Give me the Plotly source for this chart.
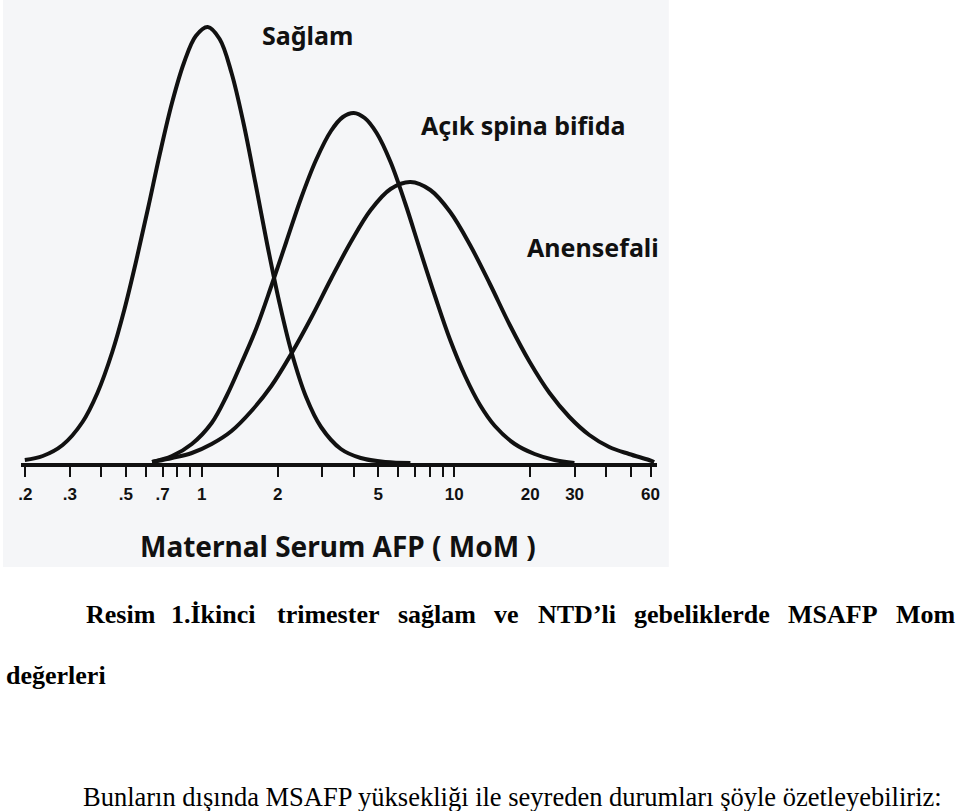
import plotly.graph_objects as go

# ---- data (x in MoM, y = relative frequency, arbitrary units) ----
saglam_x = [0.1991, 0.2345, 0.2811, 0.3370, 0.3860, 0.4421, 0.4931, 0.5497, 0.6129, 0.6835,
            0.7620, 0.8496, 0.9471, 1.0559, 1.1772, 1.3124, 1.4633, 1.6315, 1.8190, 2.0280,
            2.2611, 2.5907, 2.9680, 3.5572, 4.2650, 5.3490, 6.7100]
saglam_y = [3, 7, 18, 41, 70, 111, 153, 202, 255, 310,
            360, 400, 427, 436, 424, 390, 340, 280, 218, 161,
            112, 66, 36, 14, 5, 1, 0]

spina_x = [0.6356, 0.7620, 0.9135, 1.0947, 1.2543, 1.4370, 1.6465, 1.8864, 2.1612, 2.4760,
           2.8370, 3.2500, 3.6240, 4.0030, 4.4220, 4.9300, 5.5980, 6.4130, 7.3470, 8.4200,
           9.6440, 11.050, 12.660, 14.500, 17.390, 20.840, 24.980, 29.950]
spina_y = [1, 7, 19, 40, 67, 100, 135, 177, 221, 265,
           303, 332, 346, 350, 345, 330, 301, 259, 212, 166,
           123, 87, 58, 37, 19, 9, 3, 0]

anen_x = [0.6356, 0.7620, 0.9135, 1.0947, 1.3124, 1.5733, 1.8864, 2.2611, 2.7110, 3.2500,
          3.8960, 4.6700, 5.5980, 6.7100, 8.0440, 9.6440, 11.560, 13.860, 16.610, 19.920,
          23.870, 28.620, 34.310, 41.140, 49.310, 59.110, 62.0]
anen_y = [1, 5, 10, 19, 32, 52, 77, 109, 145, 184,
          221, 253, 274, 281, 273, 251, 218, 179, 138, 101,
          70, 46, 28, 16, 9, 3, 1]

tick_vals = [0.2, 0.3, 0.4, 0.5, 0.6, 0.7, 0.8, 0.9, 1, 2, 3, 4, 5, 6, 7, 8, 9, 10, 20, 30, 40, 50, 60]
tick_text = [".2", ".3", "", ".5", "", ".7", "", "", "1", "2", "", "", "5", "", "", "", "", "10",
             "20", "30", "", "", "60"]

curve_labels = ["Sağlam", "Açık spina bifida", "Anensefali"]
axis_title = "Maternal Serum AFP ( MoM )"
caption_words = ["Resim", "1.İkinci", "trimester", "sağlam", "ve", "NTD’li", "gebeliklerde", "MSAFP", "Mom"]
caption_line2 = "değerleri"
body_text = "Bunların dışında MSAFP yüksekliği ile seyreden durumları şöyle özetleyebiliriz:"

W, H = 960, 811


def X(px):
    return px / W


def Y(py):
    return 1 - py / H


fig = go.Figure()
for xs, ys in [(saglam_x, saglam_y), (spina_x, spina_y), (anen_x, anen_y)]:
    fig.add_trace(go.Scatter(x=xs, y=ys, mode="lines",
                             line=dict(color="#111111", width=4, shape="spline", smoothing=1.0),
                             hoverinfo="skip", showlegend=False))

chart_font = "Noto Sans"
fig.update_layout(
    width=W, height=H,
    margin=dict(l=0, r=0, t=0, b=0),
    paper_bgcolor="white",
    plot_bgcolor="rgba(0,0,0,0)",
    showlegend=False,
    xaxis=dict(
        type="log",
        range=[(18 - 200) / 254, (658 - 200) / 254],
        domain=[X(18), X(658)],
        showgrid=False, zeroline=False,
        showline=True, linecolor="#111111", linewidth=4,
        ticks="outside", ticklen=10, tickwidth=2, tickcolor="#111111",
        tickvals=tick_vals, ticktext=["<b>%s</b>" % t if t else "" for t in tick_text],
        tickfont=dict(family="Liberation Sans", size=17, color="#111111"),
        ticklabelstandoff=3,
    ),
    yaxis=dict(
        range=[0, 443],
        domain=[Y(463), Y(20)],
        visible=False,
    ),
    shapes=[dict(type="rect", xref="paper", yref="paper",
                 x0=0, x1=X(670), y0=Y(567), y1=1,
                 fillcolor="#f5f6f8", line=dict(width=0), layer="below")],
)

ann = []
label_pos = [(259, 35), (419, 125), (525, 247)]
for txt, (px, py) in zip(curve_labels, label_pos):
    ann.append(dict(text="<b>%s</b>" % txt, x=X(px), y=Y(py), xref="paper", yref="paper",
                    xanchor="left", yanchor="middle", showarrow=False,
                    font=dict(family=chart_font, size=25, color="#111111")))
ann.append(dict(text="<b>%s</b>" % axis_title, x=X(337), y=Y(546), xref="paper", yref="paper",
                xanchor="center", yanchor="middle", showarrow=False,
                font=dict(family=chart_font, size=28, color="#111111")))

word_x = [82, 167, 274, 395, 492, 536, 633, 788, 897]
for w, px in zip(caption_words, word_x):
    ann.append(dict(text="<b>%s</b>" % w, x=X(px), y=Y(614), xref="paper", yref="paper",
                    xanchor="left", yanchor="middle", showarrow=False,
                    font=dict(family="Liberation Serif", size=26, color="black")))
ann.append(dict(text="<b>%s</b>" % caption_line2, x=X(1), y=Y(675), xref="paper", yref="paper",
                xanchor="left", yanchor="middle", showarrow=False,
                font=dict(family="Liberation Serif", size=26, color="black")))
ann.append(dict(text=body_text, x=X(78), y=Y(797), xref="paper", yref="paper",
                xanchor="left", yanchor="middle", showarrow=False,
                font=dict(family="Liberation Serif", size=26.5, color="black")))
fig.update_layout(annotations=ann)

fig.write_html("out.html")
